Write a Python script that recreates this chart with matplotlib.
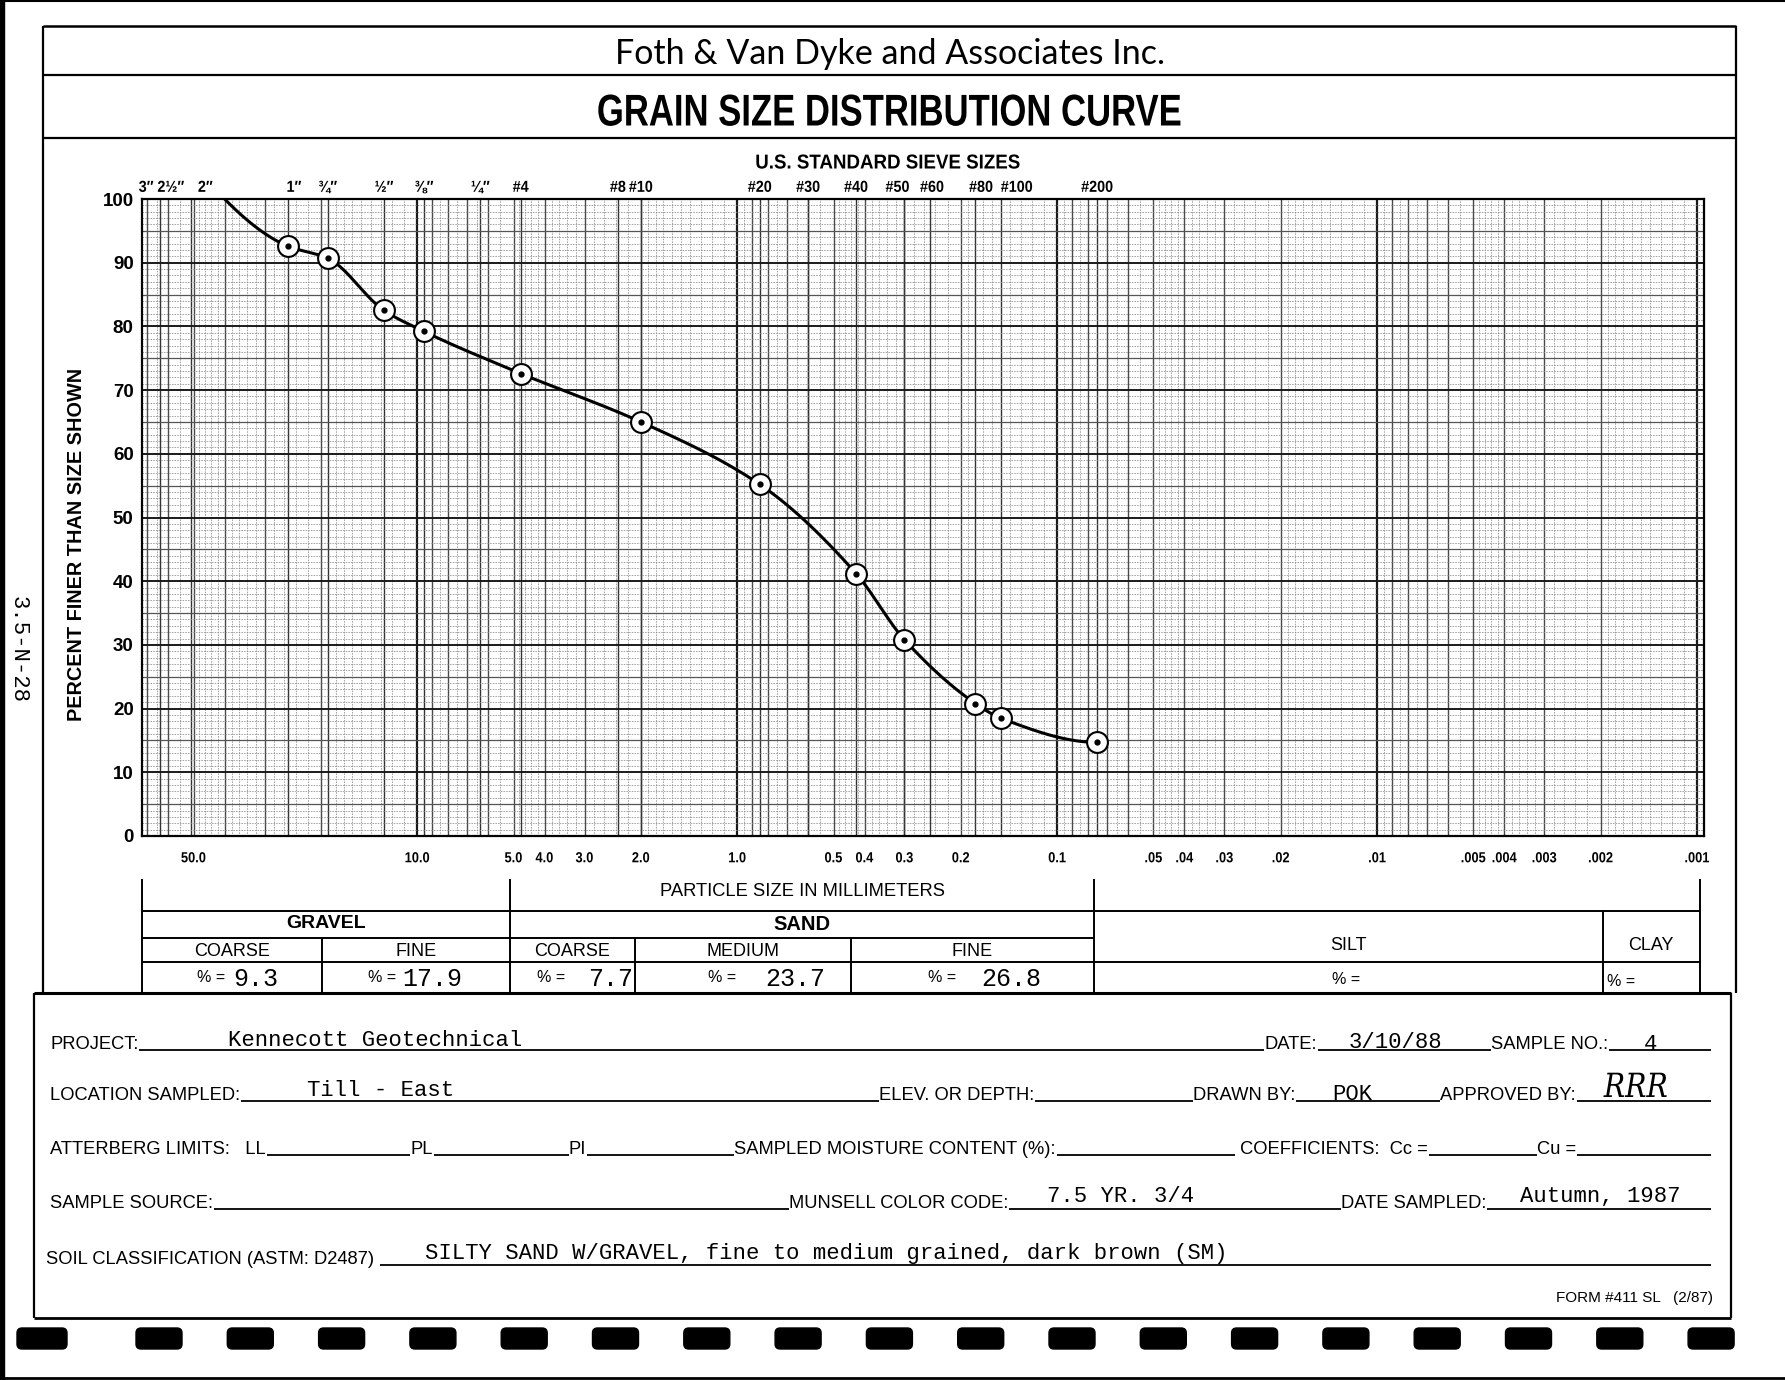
import numpy as np
import matplotlib
matplotlib.use("Agg")
import matplotlib.pyplot as plt
from matplotlib.patches import FancyBboxPatch
from matplotlib.patheffects import AbstractPathEffect
from matplotlib.ticker import NullLocator
from matplotlib.transforms import Affine2D

W, H = 1785, 1380

# sieve sizes printed along the top of the chart paper
SIEVE_LABELS = ["3″", "2½″", "2″", "1″", "¾″", "½″", "⅜″", "¼″", "#4", "#8", "#10",
                "#20", "#30", "#40", "#50", "#60", "#80", "#100", "#200"]
SIEVE_MM = [76.2, 63.5, 50.8, 25.4, 19.05, 12.7, 9.525, 6.35, 4.75, 2.36, 2.0,
            0.85, 0.6, 0.425, 0.3, 0.25, 0.18, 0.15, 0.075]

# particle size labels along the bottom
MM_TICKS = [50, 10, 5, 4, 3, 2, 1, 0.5, 0.4, 0.3, 0.2, 0.1, 0.05, 0.04, 0.03, 0.02,
            0.01, 0.005, 0.004, 0.003, 0.002, 0.001]
MM_LABELS = ["50.0", "10.0", "5.0", "4.0", "3.0", "2.0", "1.0", "0.5", "0.4", "0.3",
             "0.2", "0.1", ".05", ".04", ".03", ".02", ".01", ".005", ".004", ".003",
             ".002", ".001"]

# test results
TEST_MM = [25.4, 19.05, 12.7, 9.525, 4.75, 2.0, 0.85, 0.425, 0.3, 0.18, 0.15, 0.075]
PCT_FINER = [92.6, 90.7, 82.5, 79.2, 72.6, 65.0, 55.2, 41.2, 30.8, 20.8, 18.5, 14.7]
CURVE_TOP_MM = 40.0  # hand drawn curve leaves the 100 % line here

GRAVEL_PCT = ["9.3", "17.9"]
SAND_PCT = ["7.7", "23.7", "26.8"]

SANS = ["Liberation Sans", "DejaVu Sans"]
MONO = ["Liberation Mono", "DejaVu Sans Mono"]


class Squeeze(AbstractPathEffect):
    """Narrow the glyphs horizontally (the form uses a condensed face)."""

    def __init__(self, sx):
        super().__init__()
        self.sx = sx

    def draw_path(self, renderer, gc, tpath, affine, rgbFace=None):
        ext = tpath.get_extents(affine)
        cx = 0.5 * (ext.x0 + ext.x1)
        affine = affine + Affine2D().translate(-cx, 0).scale(self.sx, 1).translate(cx, 0)
        renderer.draw_path(gc, tpath, affine, rgbFace)


def pchip(u, v, n=40):
    order = np.argsort(u)
    x = np.asarray(u, float)[order]
    y = np.asarray(v, float)[order]
    h = np.diff(x)
    delta = np.diff(y) / h
    d = np.zeros_like(x)
    for k in range(1, len(x) - 1):
        if delta[k - 1] * delta[k] > 0:
            w1, w2 = 2 * h[k] + h[k - 1], h[k] + 2 * h[k - 1]
            d[k] = (w1 + w2) / (w1 / delta[k - 1] + w2 / delta[k])
    for i, (h0, h1, d0, d1) in ((0, (h[0], h[1], delta[0], delta[1])),
                                (-1, (h[-1], h[-2], delta[-1], delta[-2]))):
        e = ((2 * h0 + h1) * d0 - h0 * d1) / (h0 + h1)
        if np.sign(e) != np.sign(d0):
            e = 0.0
        elif np.sign(d0) != np.sign(d1) and abs(e) > abs(3 * d0):
            e = 3 * d0
        d[i] = e
    xs, ys = [], []
    t = np.linspace(0, 1, n)
    for k in range(len(x) - 1):
        h00, h10 = 2 * t ** 3 - 3 * t ** 2 + 1, t ** 3 - 2 * t ** 2 + t
        h01, h11 = -2 * t ** 3 + 3 * t ** 2, t ** 3 - t ** 2
        xs.append(x[k] + t * h[k])
        ys.append(h00 * y[k] + h10 * h[k] * d[k] + h01 * y[k + 1] + h11 * h[k] * d[k + 1])
    return np.concatenate(xs), np.concatenate(ys)


fig = plt.figure(figsize=(W / 100, H / 100), dpi=100)
bg = fig.add_axes([0, 0, 1, 1], zorder=0)
bg.set_xlim(0, W)
bg.set_ylim(H, 0)
bg.axis("off")


def hline(y, x0, x1, lw=1.4):
    bg.plot([x0, x1], [y, y], color="black", lw=lw, solid_capstyle="butt")


def vline(x, y0, y1, lw=1.4):
    bg.plot([x, x], [y0, y1], color="black", lw=lw, solid_capstyle="butt")


# scan edges
bg.add_patch(plt.Rectangle((0, 0), 4, H, color="black"))
hline(1, 0, W, lw=1.5)
hline(H - 2, 0, W, lw=2)

# form boxes
hline(26, 43, 1736, lw=1.8)
vline(43, 26, 993, lw=1.6)
vline(1736, 26, 993, lw=1.6)
hline(75, 43, 1736, lw=1.6)
hline(138, 43, 1736, lw=1.6)
hline(993, 34, 1731, lw=2.2)
vline(34, 993, 1318, lw=1.6)
vline(1731, 993, 1318, lw=1.6)
hline(1318, 34, 1731, lw=2.0)

bg.text(890, 54, "Foth & Van Dyke and Associates Inc.", ha="center", va="center",
        fontsize=24.5, family=["Lato", "DejaVu Sans"])
bg.text(890, 114, "GRAIN SIZE DISTRIBUTION CURVE", ha="center", va="center",
        fontsize=32, fontweight="bold", family=SANS, path_effects=[Squeeze(0.78)])
bg.text(888, 163, "U.S. STANDARD SIEVE SIZES", ha="center", va="center",
        fontsize=14.5, fontweight="bold", family=SANS, path_effects=[Squeeze(0.93)])
bg.text(77, 544, "PERCENT FINER THAN SIZE SHOWN", ha="center", va="center",
        rotation=90, fontsize=14.3, fontweight="bold", family=SANS)
bg.text(18, 649, "3.5-N-28", ha="center", va="center", rotation=-90,
        fontsize=16, family=MONO)

# chart paper
PL, PR, PT, PB = 142, 1704, 199, 836
XL, XR = 72.5, 0.000951
ax = fig.add_axes([PL / W, 1 - PB / H, (PR - PL) / W, (PB - PT) / H], zorder=2)
ax.set_xscale("log")
ax.set_xlim(XL, XR)
ax.set_ylim(0, 100)

minor_x, mid_x, major_x = [], [], []
ms = list(np.arange(1.0, 2.0, 0.1)) + list(np.arange(2.0, 5.0, 0.2)) + list(np.arange(5.0, 10.0, 0.5))
for k in range(-3, 2):
    for m in ms:
        x = round(m, 2) * 10.0 ** k
        if not (XR <= x <= XL):
            continue
        if abs(m - 1.0) < 1e-9:
            major_x.append(x)
        elif abs(m - round(m)) < 1e-9:
            mid_x.append(x)
        else:
            minor_x.append(x)
ax.vlines(minor_x, 0, 100, colors="#8a8a8a", lw=0.55, linestyles=(0, (2, 1.5)), zorder=1)
ax.vlines(mid_x, 0, 100, colors="#4a4a4a", lw=1.0, zorder=1)
ax.vlines(major_x, 0, 100, colors="#1a1a1a", lw=1.6, zorder=1)
ax.vlines([s for s in SIEVE_MM if s < XL], 0, 100, colors="#333333", lw=1.0, zorder=1)

pcts = np.arange(0, 101)
ax.hlines([p for p in pcts if p % 5], XL, XR, colors="#8a8a8a", lw=0.55,
          linestyles=(0, (2, 1.5)), zorder=1)
ax.hlines([p for p in pcts if p % 5 == 0 and p % 10], XL, XR, colors="#555555", lw=0.9, zorder=1)
ax.hlines([p for p in pcts if p % 10 == 0], XL, XR, colors="#1a1a1a", lw=1.4, zorder=1)

for s in ax.spines.values():
    s.set_linewidth(1.6)

ax.set_yticks(range(0, 101, 10))
ax.set_yticklabels([str(v) for v in range(0, 101, 10)], fontsize=13.5, fontweight="bold", family=SANS)
ax.set_xticks(MM_TICKS)
ax.set_xticklabels(MM_LABELS, fontsize=10.5, fontweight="bold", family=SANS)
for t in ax.get_xticklabels():
    t.set_path_effects([Squeeze(0.88)])
ax.xaxis.set_minor_locator(NullLocator())
ax.tick_params(length=0, pad=6)
ax.tick_params(axis="x", pad=11)

# the printed sieve labels sit a little off their lines in places
NUDGE = {"3″": 8, "2½″": 7.5, "2″": 10, "1″": 4.5, "#50": -5, "#60": 1.6, "#80": 4, "#100": 11.5}
for lbl, mm in zip(SIEVE_LABELS, SIEVE_MM):
    ax.annotate(lbl, (mm, 1.0), xycoords=ax.get_xaxis_transform(),
                xytext=(NUDGE.get(lbl, 0), 3), textcoords="offset points",
                ha="center", va="bottom", fontsize=11.5, fontweight="bold", family=SANS,
                path_effects=[Squeeze(0.9)], annotation_clip=False)

cu, cv = pchip(np.log10([CURVE_TOP_MM] + TEST_MM), [100.0] + PCT_FINER)
ax.plot(10 ** cu, cv, color="black", lw=2.2, zorder=4)
ax.plot(TEST_MM, PCT_FINER, "o", ms=15, mfc="white", mec="black", mew=1.5, zorder=5)
ax.plot(TEST_MM, PCT_FINER, "o", ms=3.5, color="black", zorder=6)

# classification table
for x in (142, 510, 1094, 1700):
    vline(x, 879, 993)
for x in (322, 635, 851):
    vline(x, 938, 993)
vline(1603, 911, 993)
hline(911, 142, 1700)
hline(938, 142, 1094)
hline(962, 142, 1700)

bg.text(803, 892, "PARTICLE SIZE IN MILLIMETERS", ha="center", va="center", fontsize=13.2, family=SANS)
bg.text(326, 924, "GRAVEL", ha="center", va="center", fontsize=14, fontweight="bold", family=SANS)
bg.text(802, 924, "SAND", ha="center", va="center", fontsize=14.5, fontweight="bold", family=SANS)
for x, t in [(232, "COARSE"), (416, "FINE"), (572, "COARSE"), (743, "MEDIUM"), (972, "FINE")]:
    bg.text(x, 951, t, ha="center", va="center", fontsize=13, family=SANS)
bg.text(1348, 946, "SILT", ha="center", va="center", fontsize=13, family=SANS)
bg.text(1651, 946, "CLAY", ha="center", va="center", fontsize=13, family=SANS)

cells = [(197, 233, GRAVEL_PCT[0]), (368, 402, GRAVEL_PCT[1]), (537, 588, SAND_PCT[0]),
         (708, 765, SAND_PCT[1]), (928, 981, SAND_PCT[2])]
for px, vx, val in cells:
    bg.text(px, 977, "% =", ha="left", va="center", fontsize=11.5, family=SANS)
    bg.text(vx, 979, val, ha="left", va="center", fontsize=18, family=MONO)
bg.text(1346, 980, "% =", ha="center", va="center", fontsize=11.5, family=SANS)
bg.text(1607, 981, "% =", ha="left", va="center", fontsize=11.5, family=SANS)

# form fields: label, start x (None = continue), end of the blank line
renderer = fig.canvas.get_renderer()
FIELD_ROWS = [
    (1050, [("PROJECT:", 50, 1264), ("DATE:", None, 1491), ("SAMPLE NO.:", None, 1711)]),
    (1101, [("LOCATION SAMPLED:", 50, 879), ("ELEV. OR DEPTH:", None, 1193),
            ("DRAWN BY:", None, 1440), ("APPROVED BY:", None, 1711)]),
    (1155, [("ATTERBERG LIMITS:   LL", 50, 410), ("PL", None, 569), ("PI", None, 734),
            ("SAMPLED MOISTURE CONTENT (%):", None, 1235), (" COEFFICIENTS:  Cc =", None, 1537),
            ("Cu =", None, 1711)]),
    (1209, [("SAMPLE SOURCE:", 50, 789), ("MUNSELL COLOR CODE:", None, 1341),
            ("DATE SAMPLED:", None, 1711)]),
    (1265, [("SOIL CLASSIFICATION (ASTM: D2487) ", 46, 1711)]),
]
for y, fields in FIELD_ROWS:
    x = 50
    for label, start, end in fields:
        if start is not None:
            x = start
        t = bg.text(x, y - 1, label, ha="left", va="baseline", fontsize=13.2, family=SANS)
        x1 = t.get_window_extent(renderer=renderer).x1
        hline(y, x1 + 1, end, lw=1.3)
        x = end

TYPED = [
    ("Kennecott Geotechnical", 228, 1041, "left"),
    ("3/10/88", 1395, 1043, "center"),
    ("4", 1651, 1045, "center"),
    ("Till - East", 307, 1090, "left"),
    ("POK", 1352, 1094, "center"),
    ("7.5 YR. 3/4", 1047, 1197, "left"),
    ("Autumn, 1987", 1520, 1197, "left"),
    ("SILTY SAND W/GRAVEL, fine to medium grained, dark brown (SM)", 425, 1253, "left"),
]
for txt, x, y, ha in TYPED:
    bg.text(x, y, txt, ha=ha, va="center", fontsize=16, family=MONO)
bg.text(1636, 1088, "RRR", ha="center", va="center", fontsize=24, style="italic",
        family=["DejaVu Serif"], path_effects=[Squeeze(0.85)])

bg.text(1713, 1298, "FORM #411 SL   (2/87)", ha="right", va="center", fontsize=11, family=SANS)

# sprocket holes of the continuous form paper
bg.add_patch(FancyBboxPatch((17, 1328), 50, 21, boxstyle="round,pad=0,rounding_size=5",
                            color="black"))
for cx in 159 + 91.3 * np.arange(18):
    bg.add_patch(FancyBboxPatch((cx - 23, 1328), 46, 21, boxstyle="round,pad=0,rounding_size=5",
                                color="black"))

fig.savefig("out.png", dpi=100)
